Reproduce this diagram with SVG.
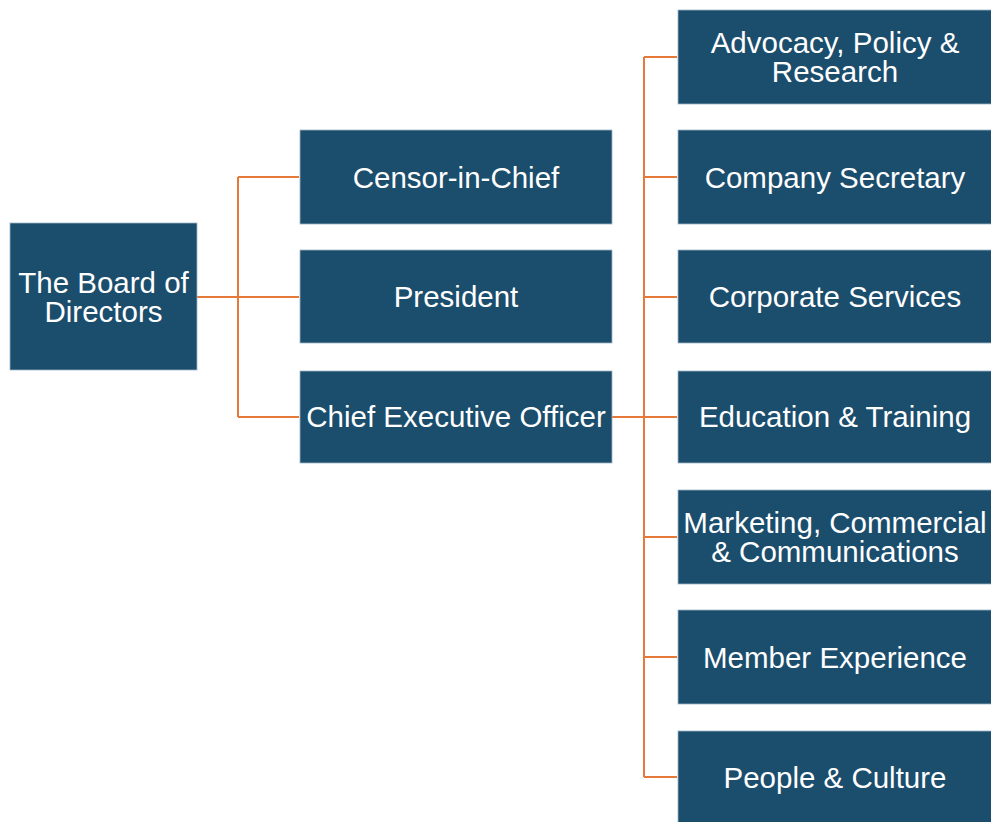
<svg xmlns="http://www.w3.org/2000/svg" width="991" height="822" viewBox="0 0 991 822">
<style>
.box{fill:#1b4d6d;stroke:#9fb4c4;stroke-width:0.8}
.t{font-family:"Liberation Sans",Arial,sans-serif;font-size:29.5px;fill:#ffffff;text-anchor:middle;dominant-baseline:central}
.c{stroke:#e4793a;stroke-width:2;fill:none}
</style>
<rect width="991" height="822" fill="#ffffff"/>
<g id="connectors">
<path class="c" d="M197,297 H299 M238,177 V417 M238,177 H299 M238,417 H299"/>
<path class="c" d="M612,417 H677 M644,57 V777 M644,57 H677 M644,177 H677 M644,297 H677 M644,537 H677 M644,657 H677 M644,777 H677"/>
</g>
<g id="board"><rect class="box" x="10" y="223" width="187" height="147"/><text class="t"><tspan x="103.5" y="282">The Board of</tspan><tspan x="103.5" y="311">Directors</tspan></text></g>
<g id="censor"><rect class="box" x="300" y="130" width="312" height="94"/><text class="t" x="456" y="177">Censor-in-Chief</text></g>
<g id="president"><rect class="box" x="300" y="250" width="312" height="93"/><text class="t" x="456" y="296">President</text></g>
<g id="ceo"><rect class="box" x="300" y="371" width="312" height="92"/><text class="t" x="456" y="416">Chief Executive Officer</text></g>
<g id="advocacy"><rect class="box" x="678" y="10" width="314" height="94"/><text class="t"><tspan x="835" y="42">Advocacy, Policy &amp;</tspan><tspan x="835" y="71">Research</tspan></text></g>
<g id="secretary"><rect class="box" x="678" y="130" width="314" height="94"/><text class="t" x="835" y="177">Company Secretary</text></g>
<g id="corporate"><rect class="box" x="678" y="250" width="314" height="93"/><text class="t" x="835" y="296">Corporate Services</text></g>
<g id="education"><rect class="box" x="678" y="371" width="314" height="92"/><text class="t" x="835" y="416">Education &amp; Training</text></g>
<g id="marketing"><rect class="box" x="678" y="490" width="314" height="94"/><text class="t"><tspan x="835" y="522">Marketing, Commercial</tspan><tspan x="835" y="551">&amp; Communications</tspan></text></g>
<g id="member"><rect class="box" x="678" y="610" width="314" height="94"/><text class="t" x="835" y="657">Member Experience</text></g>
<g id="people"><rect class="box" x="678" y="731" width="314" height="95"/><text class="t" x="835" y="777">People &amp; Culture</text></g>
</svg>
